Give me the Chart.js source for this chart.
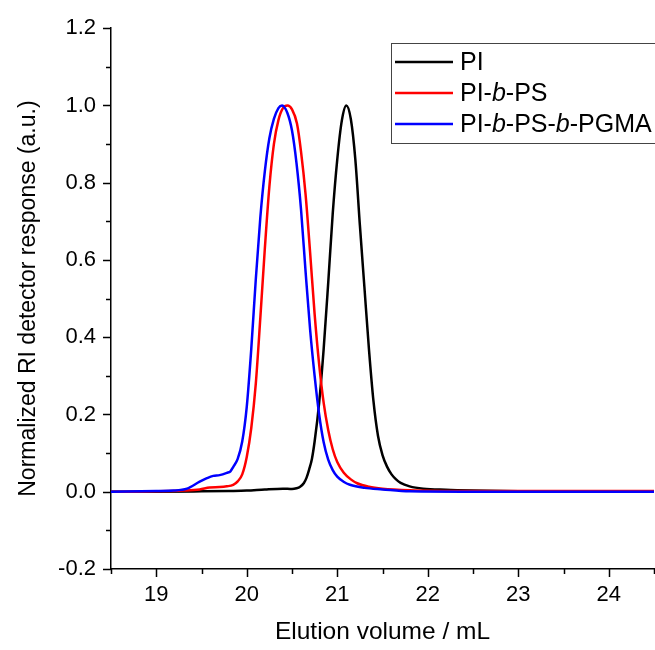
<!DOCTYPE html>
<html>
<head>
<meta charset="utf-8">
<script src="https://cdn.jsdelivr.net/npm/chart.js@4"></script>
<style>
  body { margin: 0; background: #fff; }
  #wrap { width: 655px; height: 650px; }
</style>
</head>
<body>
<div id="wrap"><canvas id="gpcChart" width="655" height="650"></canvas></div>
<script>
// tick labels
const xTickValues = [19, 20, 21, 22, 23, 24];
const yTickValues = [-0.2, 0, 0.2, 0.4, 0.6, 0.8, 1.0, 1.2];

const seriesNames = ['PI', 'PI-b-PS', 'PI-b-PS-b-PGMA'];
const yTitle = 'Normalized RI detector response (a.u.)';

// PI (black)
const piX = [18.5, 19.0, 19.5, 19.8, 20.0, 20.2, 20.4, 20.5, 20.55, 20.59, 20.63, 20.66, 20.69, 20.72, 20.75, 20.8,
    20.85, 20.9, 20.95, 21.0, 21.05, 21.1, 21.15, 21.2, 21.25, 21.3, 21.35, 21.4, 21.45, 21.5, 21.55, 21.6, 21.65,
    21.7, 21.8, 21.95, 22.2, 22.5, 23.0, 24.5];
const piY = [0, 0, 0.001, 0.002, 0.003, 0.006, 0.008, 0.007, 0.009, 0.013, 0.022, 0.036, 0.058, 0.085, 0.13, 0.23,
    0.37, 0.54, 0.72, 0.86, 0.96, 1.0, 0.965, 0.86, 0.69, 0.53, 0.37, 0.235, 0.145, 0.095, 0.065, 0.045, 0.032,
    0.023, 0.014, 0.008, 0.005, 0.003, 0.001, 0];

// PI-b-PS (red)
const psX = [18.5, 19.0, 19.3, 19.48, 19.59, 19.7, 19.78, 19.85, 19.9, 19.95, 20.0, 20.05, 20.1, 20.15, 20.2,
    20.25, 20.3, 20.35, 20.4, 20.45, 20.5, 20.555, 20.6, 20.65, 20.7, 20.75, 20.8, 20.85, 20.9, 20.95, 21.0, 21.07,
    21.15, 21.22, 21.35, 21.5, 21.8, 22.5, 23.5, 24.5];
const psY = [0, 0.001, 0.003, 0.006, 0.011, 0.012, 0.014, 0.018, 0.027, 0.045, 0.09, 0.165, 0.28, 0.45, 0.63,
    0.79, 0.9, 0.962, 0.993, 1.0, 0.99, 0.953, 0.88, 0.77, 0.62, 0.46, 0.33, 0.23, 0.16, 0.11, 0.077, 0.05,
    0.032, 0.022, 0.013, 0.008, 0.004, 0.002, 0.002, 0.002];

// PI-b-PS-b-PGMA (blue)
const pgmaX = [18.5, 19.0, 19.19, 19.34, 19.48, 19.56, 19.63, 19.7, 19.78, 19.82, 19.85, 19.9, 19.95, 20.0, 20.05,
    20.1, 20.15, 20.2, 20.25, 20.3, 20.35, 20.39, 20.45, 20.5, 20.55, 20.6, 20.65, 20.7, 20.75, 20.8, 20.85, 20.9,
    20.95, 21.0, 21.07, 21.14, 21.3, 21.5, 21.8, 22.5, 24.5];
const pgmaY = [0, 0.002, 0.003, 0.008, 0.026, 0.035, 0.041, 0.043, 0.049, 0.053, 0.064, 0.085, 0.13, 0.22, 0.37,
    0.55, 0.71, 0.83, 0.915, 0.965, 0.993, 1.0, 0.98, 0.935, 0.85, 0.73, 0.57, 0.42, 0.3, 0.2, 0.128, 0.083,
    0.056, 0.039, 0.026, 0.018, 0.01, 0.006, 0.001, 0, 0];

const FONT = '"Liberation Sans", Arial, sans-serif';

function toPoints(xs, ys) {
    return xs.map((x, i) => ({ x: x, y: ys[i] }));
}

// outward major + minor ticks, Origin style
const axisTicks = {
    id: 'axisTicks',
    afterDraw(chart) {
        const ctx = chart.ctx;
        const xs = chart.scales.x;
        const ys = chart.scales.y;
        const area = chart.chartArea;
        ctx.save();
        ctx.strokeStyle = '#000';
        ctx.lineWidth = 1.5;
        ctx.beginPath();
        for (let v = 18.5; v <= 24.5 + 1e-9; v += 0.5) {
            const px = Math.round(xs.getPixelForValue(v)) + 0.5;
            const len = Number.isInteger(v) ? 8 : 5;
            ctx.moveTo(px, area.bottom);
            ctx.lineTo(px, area.bottom + len);
        }
        for (let k = -2; k <= 12; k++) {
            const py = Math.round(ys.getPixelForValue(k / 10)) + 0.5;
            const len = (k % 2 === 0) ? 8 : 5;
            ctx.moveTo(area.left, py);
            ctx.lineTo(area.left - len, py);
        }
        ctx.stroke();

        // y axis title, centred on the axis
        ctx.translate(29, (area.top + area.bottom) / 2);
        ctx.rotate(-Math.PI / 2);
        ctx.font = '23px ' + FONT;
        ctx.fillStyle = '#000';
        ctx.textAlign = 'center';
        ctx.textBaseline = 'middle';
        ctx.fillText(yTitle, 0, 0);
        ctx.restore();
    }
};

// legend box with italic "b"
const legendBox = {
    id: 'legendBox',
    afterDraw(chart) {
        const ctx = chart.ctx;
        ctx.save();
        ctx.fillStyle = '#fff';
        ctx.fillRect(391, 43, 280, 100);
        ctx.strokeStyle = '#444';
        ctx.lineWidth = 1;
        ctx.strokeRect(391.5, 43.5, 280, 100);

        chart.data.datasets.forEach((ds, i) => {
            const y = 62 + i * 31;
            ctx.strokeStyle = ds.borderColor;
            ctx.lineWidth = 2.5;
            ctx.beginPath();
            ctx.moveTo(395, y);
            ctx.lineTo(453, y);
            ctx.stroke();

            let x = 460;
            ctx.fillStyle = '#000';
            ctx.textBaseline = 'middle';
            const parts = ds.label.split('-');
            parts.forEach((part, j) => {
                ctx.font = (part === 'b' ? 'italic ' : '') + '25px ' + FONT;
                ctx.fillText(part, x, y + 1);
                x += ctx.measureText(part).width;
                if (j < parts.length - 1) {
                    ctx.font = '25px ' + FONT;
                    ctx.fillText('-', x, y + 1);
                    x += ctx.measureText('-').width;
                }
            });
        });
        ctx.restore();
    }
};

const ctx = document.getElementById('gpcChart').getContext('2d');
new Chart(ctx, {
    type: 'line',
    data: {
        datasets: [
            { label: seriesNames[0], data: toPoints(piX, piY), borderColor: '#000000', order: 3 },
            { label: seriesNames[1], data: toPoints(psX, psY), borderColor: '#ff0000', order: 2 },
            { label: seriesNames[2], data: toPoints(pgmaX, pgmaY), borderColor: '#0000ff', order: 1 }
        ]
    },
    options: {
        responsive: false,
        animation: false,
        devicePixelRatio: 1,
        layout: { padding: { left: 0, top: 26, right: 1, bottom: 0 } },
        elements: {
            point: { radius: 0 },
            line: { borderWidth: 2.5, cubicInterpolationMode: 'monotone', fill: false }
        },
        plugins: {
            legend: { display: false },
            tooltip: { enabled: false }
        },
        scales: {
            x: {
                type: 'linear',
                min: 18.5,
                max: 24.5,
                afterBuildTicks: s => { s.ticks = xTickValues.map(v => ({ value: v })); },
                afterFit: s => { s.height = 81; },
                grid: { display: true, drawOnChartArea: false, drawTicks: false },
                border: { display: true, color: '#000', width: 1.5 },
                ticks: {
                    color: '#000',
                    font: { family: FONT, size: 22 },
                    padding: 13,
                    maxRotation: 0,
                    callback: v => String(v)
                },
                title: {
                    display: true,
                    text: 'Elution volume / mL',
                    color: '#000',
                    font: { family: FONT, size: 24.5 },
                    padding: { top: 0, bottom: 3 }
                }
            },
            y: {
                type: 'linear',
                min: -0.2,
                max: 1.2,
                afterBuildTicks: s => { s.ticks = yTickValues.map(v => ({ value: v })); },
                afterFit: s => { s.width = 111; },
                grid: { display: true, drawOnChartArea: false, drawTicks: false },
                border: { display: true, color: '#000', width: 1.5 },
                ticks: {
                    color: '#000',
                    font: { family: FONT, size: 22 },
                    padding: 15,
                    callback: v => v.toFixed(1)
                },
                title: { display: false }
            }
        }
    },
    plugins: [axisTicks, legendBox]
});
</script>
</body>
</html>
